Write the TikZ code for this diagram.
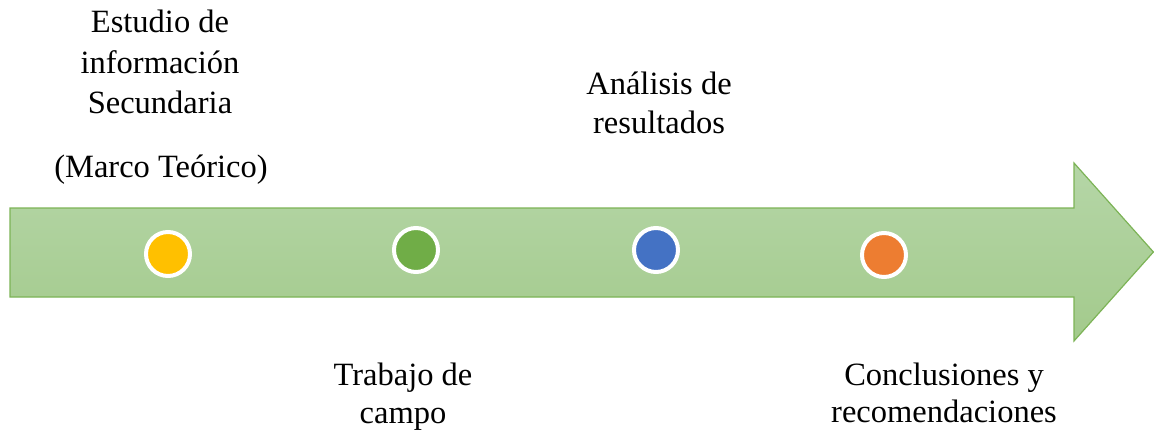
\documentclass[tikz,border=0pt]{standalone}
\usepackage{fontspec}
\setmainfont{Liberation Serif}
\definecolor{arrowtop}{HTML}{B5D6A7}
\definecolor{arrowbot}{HTML}{A3CA8C}
\definecolor{arrowline}{HTML}{7CB356}
\definecolor{cyellow}{HTML}{FFC000}
\definecolor{cgreen}{HTML}{70AD47}
\definecolor{cblue}{HTML}{4472C4}
\definecolor{corange}{HTML}{ED7D31}
\tikzset{
  lbl/.style={anchor=base, inner sep=0pt, text=black, font=\fontsize{32.5}{40}\selectfont},
  dot/.style={circle, minimum size=44pt, inner sep=0pt, draw=white, line width=4pt, fill=#1},
}
\begin{document}
\begin{tikzpicture}[x=1pt, y=-1pt]
\useasboundingbox (0,0) rectangle (1154,431);
\path[draw=arrowline, line width=1.2pt, top color=arrowtop, bottom color=arrowbot, line join=miter]
  (10,208) -- (1074,208) -- (1074,163) -- (1153.4,252) -- (1074,341) -- (1074,297) -- (10,297) -- cycle;
\node[dot=cyellow] (d1) at (168,254) {};
\node[dot=cgreen]  (d2) at (416,250) {};
\node[dot=cblue]   (d3) at (656,250) {};
\node[dot=corange] (d4) at (884,255) {};
\node[lbl] (t1a) at (160,32) {Estudio de};
\node[lbl] (t1b) at (160,73) {información};
\node[lbl] (t1c) at (160,113) {Secundaria};
\node[lbl] (t1d) at (161,177) {(Marco Teórico)};
\node[lbl] (t3a) at (659,94) {Análisis de};
\node[lbl] (t3b) at (659,133) {resultados};
\node[lbl] (t2a) at (403,385) {Trabajo de};
\node[lbl] (t2b) at (403,423) {campo};
\node[lbl] (t4a) at (944,385) {Conclusiones y};
\node[lbl] (t4b) at (944,422) {recomendaciones};
\end{tikzpicture}
\end{document}
